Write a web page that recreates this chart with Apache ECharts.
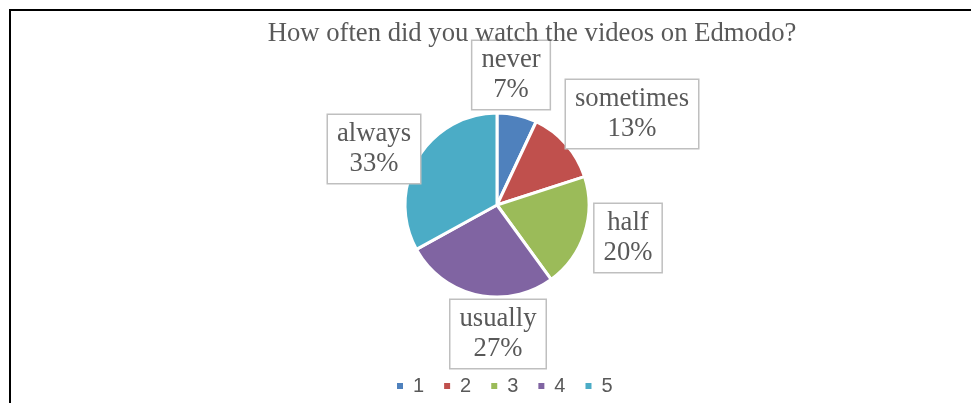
<!DOCTYPE html>
<html>
<head>
<meta charset="utf-8">
<script src="https://cdn.jsdelivr.net/npm/echarts@6/dist/echarts.min.js"></script>
<style>html,body{margin:0;padding:0;background:#fff;}#c{width:971px;height:403px;}</style>
</head>
<body>
<div id="c"></div>
<script>
var titleText = 'How often did you watch the videos on Edmodo?';
var categories = ['1', '2', '3', '4', '5'];
var labelNames = ['never', 'sometimes', 'half', 'usually', 'always'];
var values = [7, 13, 20, 27, 33];
var colors = ['#4F81BD', '#C0504D', '#9BBB59', '#8064A2', '#4BACC6'];
var labelCenters = [[511, 75], [632, 114], [628, 238], [498, 334], [374, 149]];

var chart = echarts.init(document.getElementById('c'), null, {renderer: 'canvas'});
var option = {
  animation: false,
  backgroundColor: '#ffffff',
  color: colors,
  title: {
    text: titleText,
    left: 527, top: 15, textAlign: 'center',
    textStyle: {fontFamily: 'Liberation Serif', fontSize: 26.67, fontWeight: 'normal', color: '#595959'}
  },
  legend: {
    bottom: 2, left: 390,
    icon: 'rect', itemWidth: 8, itemHeight: 8, itemGap: 18,
    textStyle: {fontFamily: 'Liberation Sans', fontSize: 20, color: '#595959', padding: [0, 0, 0, 4]},
    data: categories
  },
  graphic: [{
    type: 'polyline',
    shape: {points: [[10, 403], [10, 10], [971, 10]]},
    style: {stroke: '#000', lineWidth: 2, fill: null}
  }],
  series: [{
    type: 'pie',
    center: [497, 205],
    radius: 92,
    startAngle: 90,
    clockwise: true,
    itemStyle: {borderColor: '#fff', borderWidth: 3},
    labelLine: {show: false},
    label: {
      show: true,
      position: 'outside',
      formatter: function (p) { return labelNames[p.dataIndex] + '\n' + p.value + '%'; },
      fontFamily: 'Liberation Serif', fontSize: 26.67, color: '#595959',
      lineHeight: 30,
      backgroundColor: '#fff', borderColor: '#bfbfbf', borderWidth: 1.5,
      padding: [4, 9, 4, 9], align: 'center'
    },
    labelLayout: function (p) {
      var c = labelCenters[p.dataIndex];
      return {x: c[0], y: c[1], align: 'center', verticalAlign: 'middle'};
    },
    data: categories.map(function (n, i) { return {name: n, value: values[i]}; })
  }]
};
chart.setOption(option);
</script>
</body>
</html>
